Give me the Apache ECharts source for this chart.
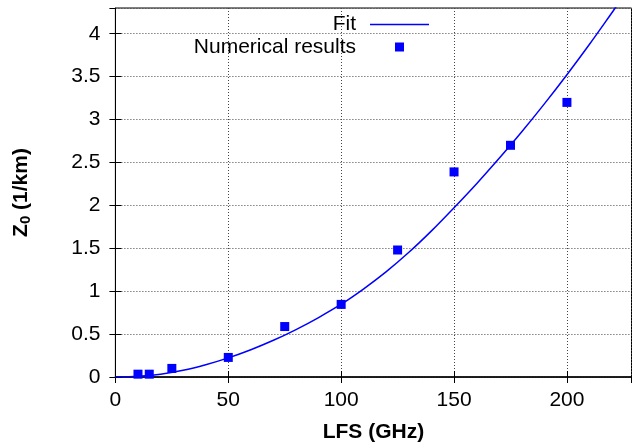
<!DOCTYPE html>
<html>
<head>
<meta charset="utf-8">
<script src="https://cdn.jsdelivr.net/npm/echarts@6/dist/echarts.min.js"></script>
<style>html,body{margin:0;padding:0;background:#fff;}#c{width:632px;height:448px;}</style>
</head>
<body>
<div id="c"></div>
<script>
// Numerical results
const numX = [10, 15, 25, 50, 75, 100, 125, 150, 175, 200];
const numY = [0.033, 0.033, 0.10, 0.228, 0.588, 0.846, 1.48, 2.39, 2.70, 3.20];
// Fit curve
const fitX = [0, 10, 20, 30, 40, 50, 60, 70, 80, 90, 100, 110, 120, 130, 140, 150, 160, 170, 180, 190, 200, 210, 220, 223];
const fitY = [0, 0.008, 0.033, 0.078, 0.143, 0.223, 0.318, 0.428, 0.553, 0.693, 0.848, 1.028, 1.228, 1.453, 1.703, 1.973, 2.253, 2.548, 2.858, 3.183, 3.523, 3.878, 4.248, 4.36];
const xTicks = [0, 50, 100, 150, 200];
const yTicks = [0, 0.5, 1, 1.5, 2, 2.5, 3, 3.5, 4];

const FONT = 'Liberation Sans';
const FS = 21;
const chart = echarts.init(document.getElementById('c'), null, {renderer: 'canvas'});
const grid = {left: 115.4, top: 8, right: 0.5, bottom: 69, show: true, borderColor: '#000', borderWidth: 1, backgroundColor: 'transparent'};
const splitLine = {show: true, lineStyle: {color: '#444', width: 1, type: [1, 2]}};
const baseX = {type: 'value', min: 0, max: 228.6, interval: 50, gridIndex: 0};
const baseY = {type: 'value', min: 0, max: 4.3, interval: 0.5, gridIndex: 0};

chart.setOption({
  animation: false,
  grid: grid,
  xAxis: [Object.assign({}, baseX, {
    position: 'bottom',
    axisLine: {show: true, lineStyle: {color: '#000', width: 1.5}},
    axisTick: {show: true, inside: true, length: 6, lineStyle: {color: '#000'}},
    axisLabel: {show: true, margin: 13, fontFamily: FONT, fontSize: FS, color: '#000', showMaxLabel: false,
      formatter: v => xTicks.indexOf(v) >= 0 ? String(v) : ''},
    splitLine: splitLine,
    name: 'LFS (GHz)', nameLocation: 'middle', nameGap: 45,
    nameTextStyle: {fontFamily: FONT, fontSize: FS, fontWeight: 'bold', color: '#000'}
  }), Object.assign({}, baseX, {
    position: 'top',
    axisLine: {show: false},
    axisTick: {show: true, inside: true, length: 6, lineStyle: {color: '#000'}},
    axisLabel: {show: false}, splitLine: {show: false}
  })],
  yAxis: [Object.assign({}, baseY, {
    position: 'left',
    axisLine: {show: true, lineStyle: {color: '#000', width: 1}},
    axisTick: {show: true, inside: true, length: 6, lineStyle: {color: '#000'}},
    axisLabel: {show: true, margin: 15, fontFamily: FONT, fontSize: FS, color: '#000', showMaxLabel: false,
      formatter: v => yTicks.indexOf(v) >= 0 ? String(v) : ''},
    splitLine: splitLine,
    name: '{m|Z}{s|0}{m| (1/km)}', nameLocation: 'middle', nameGap: 82, nameRotate: 90,
    nameTextStyle: {fontFamily: FONT, fontSize: FS, fontWeight: 'bold', color: '#000',
      rich: {m: {fontFamily: FONT, fontSize: FS, fontWeight: 'bold', color: '#000'},
             s: {fontFamily: FONT, fontSize: 15, fontWeight: 'bold', color: '#000', verticalAlign: 'bottom', padding: [10, 0, 0, 0]}}}
  }), Object.assign({}, baseY, {
    position: 'right',
    axisLine: {show: false},
    axisTick: {show: true, inside: true, length: 6, lineStyle: {color: '#000'}},
    axisLabel: {show: false}, splitLine: {show: false}
  })],
  legend: [{
    data: [{name: 'Fit', icon: 'rect'}], orient: 'vertical', align: 'right', right: 203, top: 14, padding: 0,
    itemWidth: 59, itemHeight: 1.5,
    textStyle: {fontFamily: FONT, fontSize: FS, color: '#000', padding: [0, 9, 0, 0]}
  }, {
    data: [{name: 'Numerical results', icon: 'rect'}], orient: 'vertical', align: 'right', right: 228, top: 36.5, padding: 0,
    itemWidth: 9, itemHeight: 9,
    textStyle: {fontFamily: FONT, fontSize: FS, color: '#000', padding: [0, 34, 0, 0]}
  }],
  series: [{
    name: 'Fit', type: 'line', xAxisIndex: 0, yAxisIndex: 0,
    data: fitX.map((x, i) => [x, fitY[i]]),
    smooth: 0.3, symbol: 'none', clip: true,
    lineStyle: {color: '#0000ff', width: 1.5}, itemStyle: {color: '#0000ff'}, z: 3
  }, {
    name: 'Numerical results', type: 'scatter', xAxisIndex: 0, yAxisIndex: 0,
    data: numX.map((x, i) => [x, numY[i]]),
    symbol: 'rect', symbolSize: 9,
    itemStyle: {color: '#0000ff', opacity: 1}, z: 4
  }]
});
</script>
</body>
</html>
